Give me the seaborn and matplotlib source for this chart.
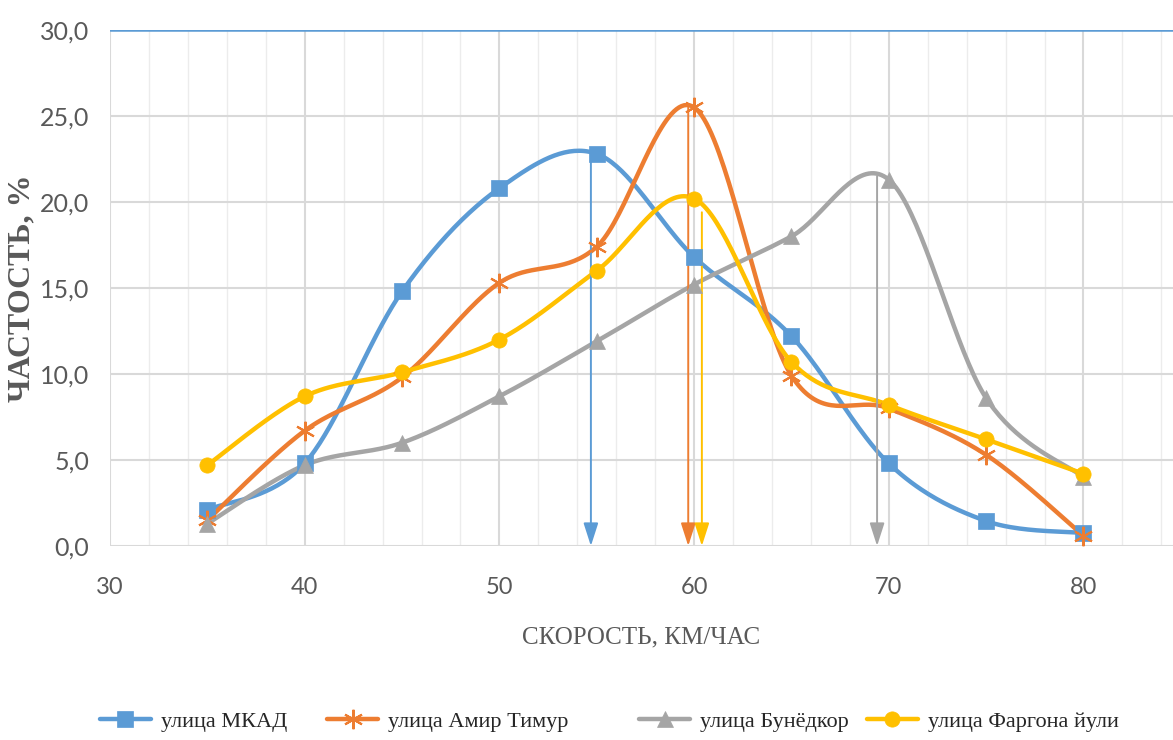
import numpy as np
import pandas as pd
import seaborn as sns
import matplotlib.pyplot as plt
from matplotlib.lines import Line2D
from matplotlib.ticker import MultipleLocator, FuncFormatter

# speed classes, km/h
speed = [35, 40, 45, 50, 55, 60, 65, 70, 75, 80]

# frequency, % for each street
mkad = [2.1, 4.8, 14.8, 20.8, 22.8, 16.8, 12.2, 4.8, 1.45, 0.75]
amir = [1.5, 6.7, 9.8, 15.3, 17.4, 25.5, 9.9, 8.0, 5.3, 0.6]
bunyodkor = [1.3, 4.7, 6.0, 8.7, 11.9, 15.2, 18.0, 21.3, 8.6, 4.0]
fargona = [4.7, 8.7, 10.1, 12.0, 16.0, 20.2, 10.7, 8.2, 6.2, 4.2]

names = ["улица МКАД", "улица Амир Тимур", "улица Бунёдкор", "улица Фаргона йули"]
# modal speed and peak height (arrows), same order as names
mode_x = [54.7, 59.7, 69.4, 60.4]
mode_y = [22.9, 25.5, 21.5, 19.4]

colors = ["#5B9BD5", "#ED7D31", "#A5A5A5", "#FFC000"]
markers = ["s", (6, 2, 0), "^", "o"]
series = [mkad, amir, bunyodkor, fargona]


def smooth(xs, ys, n=40):
    # excel-like smoothed line (catmull-rom bezier)
    pts = np.column_stack([xs, ys]).astype(float)
    out = []
    for i in range(len(pts) - 1):
        p0 = pts[i - 1] if i > 0 else pts[i]
        p1, p2 = pts[i], pts[i + 1]
        p3 = pts[i + 2] if i + 2 < len(pts) else pts[i + 1]
        c1 = p1 + (p2 - p0) / 6
        c2 = p2 - (p3 - p1) / 6
        t = np.linspace(0, 1, n)[:, None]
        seg = (1 - t) ** 3 * p1 + 3 * (1 - t) ** 2 * t * c1 + 3 * (1 - t) * t ** 2 * c2 + t ** 3 * p2
        out.append(seg if i == 0 else seg[1:])
    return np.vstack(out)


frames = []
for name, ys in zip(names, series):
    s = smooth(speed, ys)
    frames.append(pd.DataFrame({"x": s[:, 0], "y": s[:, 1], "street": name}))
curves = pd.concat(frames, ignore_index=True)
points = pd.DataFrame({
    "x": speed * 4,
    "y": mkad + amir + bunyodkor + fargona,
    "street": np.repeat(names, len(speed)),
})

sns.set_style("white")
tick_font = ["Lato", "DejaVu Sans"]

fig = plt.figure(figsize=(11.73, 7.40), dpi=100)
ax = fig.add_axes([0.0938, 0.2622, 0.9062, 0.6973])

ax.set_xlim(30, 84.6)
ax.set_ylim(0, 30)
ax.xaxis.set_major_locator(MultipleLocator(10))
ax.xaxis.set_minor_locator(MultipleLocator(2))
ax.yaxis.set_major_locator(MultipleLocator(5))
ax.grid(which="major", color="#d9d9d9", lw=1.5)
ax.grid(which="minor", axis="x", color="#ececec", lw=1.0)
ax.set_axisbelow(True)
for sp in ax.spines.values():
    sp.set_visible(False)

sns.lineplot(data=curves, x="x", y="y", hue="street", palette=colors,
             sort=False, estimator=None, lw=3.2, legend=False, ax=ax)

for name, c, m in zip(names, colors, markers):
    sub = points[points["street"] == name]
    star = isinstance(m, tuple)
    ax.plot(sub["x"], sub["y"], ls="none", marker=m, ms=11 if not star else 14,
            color=c, mec=c, mew=1.5 if star else 0.5, zorder=4)

# arrows from peaks to x-axis
for mx, my, c in zip(mode_x, mode_y, colors):
    ax.annotate("", xy=(mx, 0), xytext=(mx, my),
                arrowprops=dict(arrowstyle="-|>,head_length=1.4,head_width=0.45",
                                color=c, lw=1.4, shrinkA=0, shrinkB=0),
                zorder=3)

ax.axhline(30, color="#5B9BD5", lw=1.8, zorder=2)

ax.yaxis.set_major_formatter(FuncFormatter(lambda v, p: f"{v:.1f}".replace(".", ",")))
ax.tick_params(axis="both", which="both", length=0)
ax.tick_params(axis="y", pad=15, labelsize=18, labelcolor="#595959")
ax.tick_params(axis="x", pad=22, labelsize=17, labelcolor="#595959")
for lab in ax.get_xticklabels() + ax.get_yticklabels():
    lab.set_family(tick_font)

ax.set_xlabel("СКОРОСТЬ, КМ/ЧАС", family="Liberation Serif", fontsize=18,
              color="#595959", labelpad=21)
ax.set_ylabel("ЧАСТОСТЬ, %", family="Liberation Serif", fontsize=23,
              fontweight="bold", color="#595959")
ax.yaxis.set_label_coords(-0.069, 0.5)

# legend entries sit at uneven spacing like in the source chart
legend_x = [0.068, 0.262, 0.528, 0.722]
for name, c, m, lx in zip(names, colors, markers, legend_x):
    star = isinstance(m, tuple)
    h = Line2D([], [], color=c, lw=3.2, marker=m,
               ms=11 if not star else 14, mec=c, mew=1.5 if star else 0.5)
    fig.legend([h], [name], loc="center left", bbox_to_anchor=(lx, 0.025),
               frameon=False, handlelength=2.3, handletextpad=0.45,
               prop={"family": "Liberation Serif", "size": 16})

fig.savefig("out.png", dpi=100)
